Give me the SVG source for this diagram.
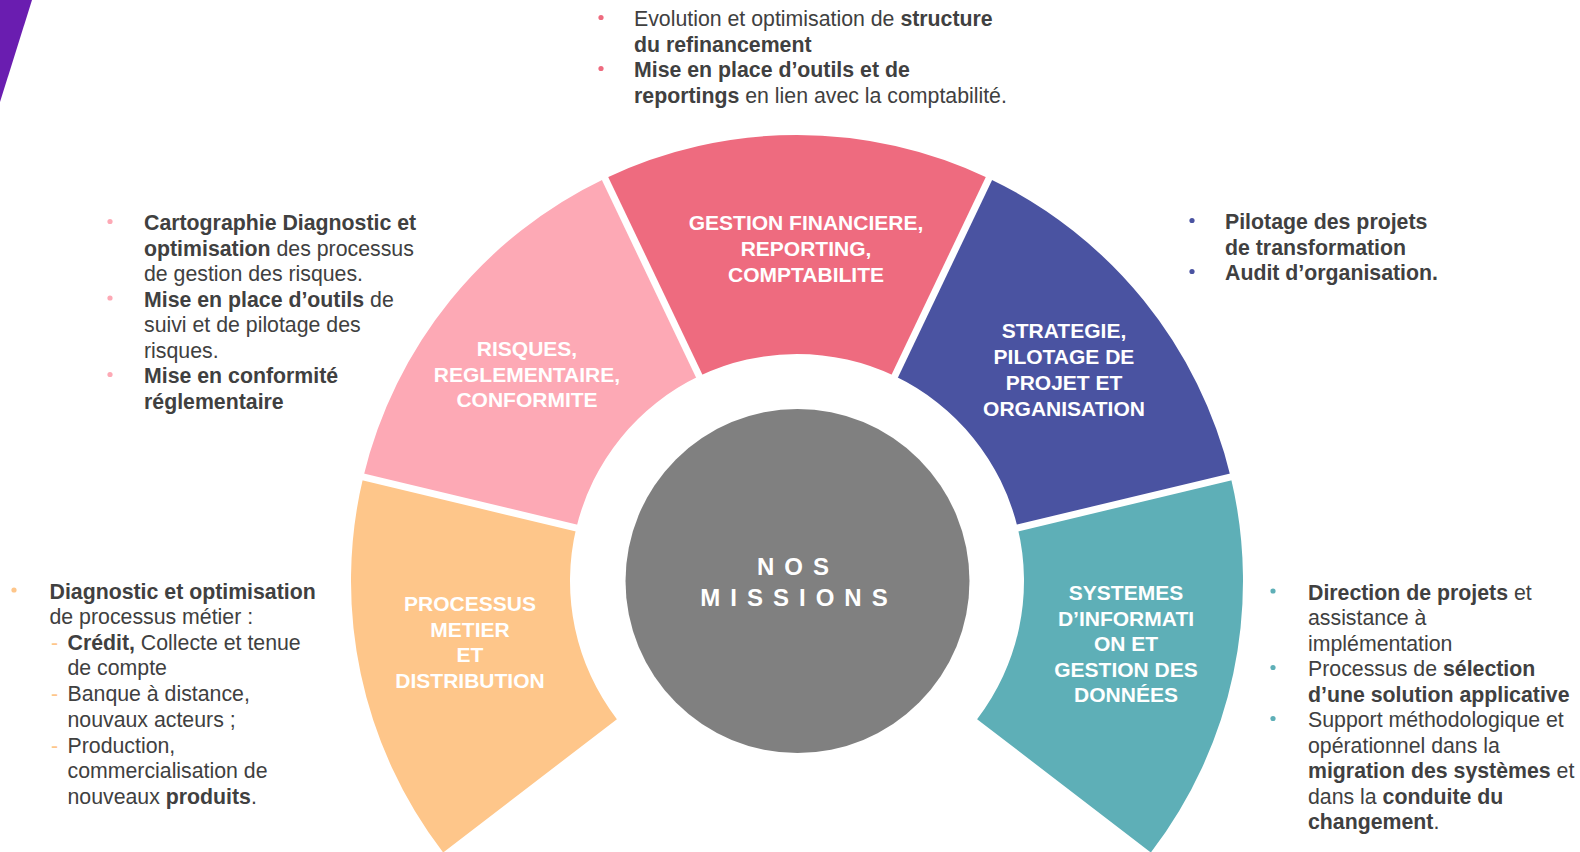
<svg xmlns="http://www.w3.org/2000/svg" width="1580" height="852" viewBox="0 0 1580 852">
<style>
.t{font-family:"Liberation Sans",Arial,sans-serif;font-size:21.3px;fill:#404040}
.b{font-weight:bold}
.lbl{font-family:"Liberation Sans",Arial,sans-serif;font-size:21px;font-weight:bold;fill:#ffffff;text-anchor:middle}
.ctr{font-family:"Liberation Sans",Arial,sans-serif;font-size:24px;font-weight:bold;fill:#ffffff;text-anchor:middle;letter-spacing:10px}
.gap{stroke:#ffffff;stroke-width:7;fill:none}
</style>
<rect width="1580" height="852" fill="#ffffff"/>
<polygon points="0,0 32,0 0,102" fill="#6A1DB0"/>

<g id="seg-processus">
<path d="M443.17,852.51 A446,446 0 0 1 363.32,476.88 L576.27,528.01 A227,227 0 0 0 616.91,719.19 Z" fill="#FEC68A"/>
<text class="lbl"><tspan x="470" y="611">PROCESSUS</tspan><tspan x="470" y="636.5">METIER</tspan><tspan x="470" y="662">ET</tspan><tspan x="470" y="687.5">DISTRIBUTION</tspan></text>
</g>
<g id="seg-risques">
<path d="M363.32,476.88 A446,446 0 0 1 604.99,178.44 L699.27,376.11 A227,227 0 0 0 576.27,528.01 Z" fill="#FDA9B5"/>
<text class="lbl"><tspan x="527" y="356">RISQUES,</tspan><tspan x="527" y="381.5">REGLEMENTAIRE,</tspan><tspan x="527" y="407">CONFORMITE</tspan></text>
</g>
<g id="seg-gestion">
<path d="M604.99,178.44 A446,446 0 0 1 989.01,178.44 L894.73,376.11 A227,227 0 0 0 699.27,376.11 Z" fill="#EE6B7F"/>
<text class="lbl"><tspan x="806" y="230">GESTION FINANCIERE,</tspan><tspan x="806" y="256">REPORTING,</tspan><tspan x="806" y="282">COMPTABILITE</tspan></text>
</g>
<g id="seg-strategie">
<path d="M989.01,178.44 A446,446 0 0 1 1230.68,476.88 L1017.73,528.01 A227,227 0 0 0 894.73,376.11 Z" fill="#4A53A1"/>
<text class="lbl"><tspan x="1064" y="338">STRATEGIE,</tspan><tspan x="1064" y="364">PILOTAGE DE</tspan><tspan x="1064" y="390">PROJET ET</tspan><tspan x="1064" y="415.5">ORGANISATION</tspan></text>
</g>
<g id="seg-si">
<path d="M1230.68,476.88 A446,446 0 0 1 1150.83,852.51 L977.09,719.19 A227,227 0 0 0 1017.73,528.01 Z" fill="#5EAFB7"/>
<text class="lbl"><tspan x="1126" y="600">SYSTEMES</tspan><tspan x="1126" y="625.5">D’INFORMATI</tspan><tspan x="1126" y="651">ON ET</tspan><tspan x="1126" y="676.5">GESTION DES</tspan><tspan x="1126" y="702">DONNÉES</tspan></text>
</g>

<g id="connectors">
<line class="gap" x1="583.1" y1="529.6" x2="354.6" y2="474.8"/>
<line class="gap" x1="702.3" y1="382.4" x2="601.1" y2="170.3"/>
<line class="gap" x1="891.7" y1="382.4" x2="992.9" y2="170.3"/>
<line class="gap" x1="1010.9" y1="529.6" x2="1239.4" y2="474.8"/>
</g>

<g id="center">
<circle cx="797.5" cy="581" r="172" fill="#808080"/>
<text class="ctr"><tspan x="798" y="575">NOS</tspan><tspan x="799" y="605.5">MISSIONS</tspan></text>
</g>

<g id="txt-gestion">
<circle cx="601" cy="17.5" r="2.6" fill="#EE6B7F"/>
<circle cx="601" cy="68.5" r="2.6" fill="#EE6B7F"/>
<text class="t"><tspan x="634" y="26">Evolution et optimisation de <tspan class="b">structure</tspan></tspan><tspan x="634" y="51.5" class="b">du refinancement</tspan><tspan x="634" y="77" class="b">Mise en place d’outils et de</tspan><tspan x="634" y="102.5"><tspan class="b">reportings</tspan> en lien avec la comptabilité.</tspan></text>
</g>

<g id="txt-risques">
<circle cx="110" cy="221.5" r="2.6" fill="#FDA9B5"/>
<circle cx="110" cy="298" r="2.6" fill="#FDA9B5"/>
<circle cx="110" cy="374.5" r="2.6" fill="#FDA9B5"/>
<text class="t"><tspan x="144" y="230" class="b">Cartographie Diagnostic et</tspan><tspan x="144" y="255.5"><tspan class="b">optimisation</tspan> des processus</tspan><tspan x="144" y="281">de gestion des risques.</tspan><tspan x="144" y="306.5"><tspan class="b">Mise en place d’outils</tspan> de</tspan><tspan x="144" y="332">suivi et de pilotage des</tspan><tspan x="144" y="357.5">risques.</tspan><tspan x="144" y="383" class="b">Mise en conformité</tspan><tspan x="144" y="408.5" class="b">réglementaire</tspan></text>
</g>

<g id="txt-processus">
<circle cx="14" cy="590" r="2.6" fill="#FEC68A"/>
<text class="t"><tspan x="51" y="649.5" fill="#FEC68A">-</tspan><tspan x="51" y="701" fill="#FEC68A">-</tspan><tspan x="51" y="752.5" fill="#FEC68A">-</tspan></text>
<text class="t"><tspan x="49.5" y="598.5" class="b">Diagnostic et optimisation</tspan><tspan x="49.5" y="624">de processus métier :</tspan><tspan x="67.5" y="649.5"><tspan class="b">Crédit,</tspan> Collecte et tenue</tspan><tspan x="67.5" y="675.2">de compte</tspan><tspan x="67.5" y="701">Banque à distance,</tspan><tspan x="67.5" y="726.7">nouvaux acteurs ;</tspan><tspan x="67.5" y="752.5">Production,</tspan><tspan x="67.5" y="778.2">commercialisation de</tspan><tspan x="67.5" y="804">nouveaux <tspan class="b">produits</tspan>.</tspan></text>
</g>

<g id="txt-strategie">
<circle cx="1192" cy="220.5" r="2.6" fill="#4A53A1"/>
<circle cx="1192" cy="271.5" r="2.6" fill="#4A53A1"/>
<text class="t b"><tspan x="1225" y="229">Pilotage des projets</tspan><tspan x="1225" y="254.5">de transformation</tspan><tspan x="1225" y="280">Audit d’organisation.</tspan></text>
</g>

<g id="txt-si">
<circle cx="1273" cy="591" r="2.6" fill="#5EAFB7"/>
<circle cx="1273" cy="667.5" r="2.6" fill="#5EAFB7"/>
<circle cx="1273" cy="718.5" r="2.6" fill="#5EAFB7"/>
<text class="t"><tspan x="1308" y="599.5"><tspan class="b">Direction de projets</tspan> et</tspan><tspan x="1308" y="625">assistance à</tspan><tspan x="1308" y="650.5">implémentation</tspan><tspan x="1308" y="676">Processus de <tspan class="b">sélection</tspan></tspan><tspan x="1308" y="701.5" class="b">d’une solution applicative</tspan><tspan x="1308" y="727">Support méthodologique et</tspan><tspan x="1308" y="752.5">opérationnel dans la</tspan><tspan x="1308" y="778"><tspan class="b">migration des systèmes</tspan> et</tspan><tspan x="1308" y="803.5">dans la <tspan class="b">conduite du</tspan></tspan><tspan x="1308" y="829" class="b">changement<tspan font-weight="normal">.</tspan></tspan></text>
</g>
</svg>
